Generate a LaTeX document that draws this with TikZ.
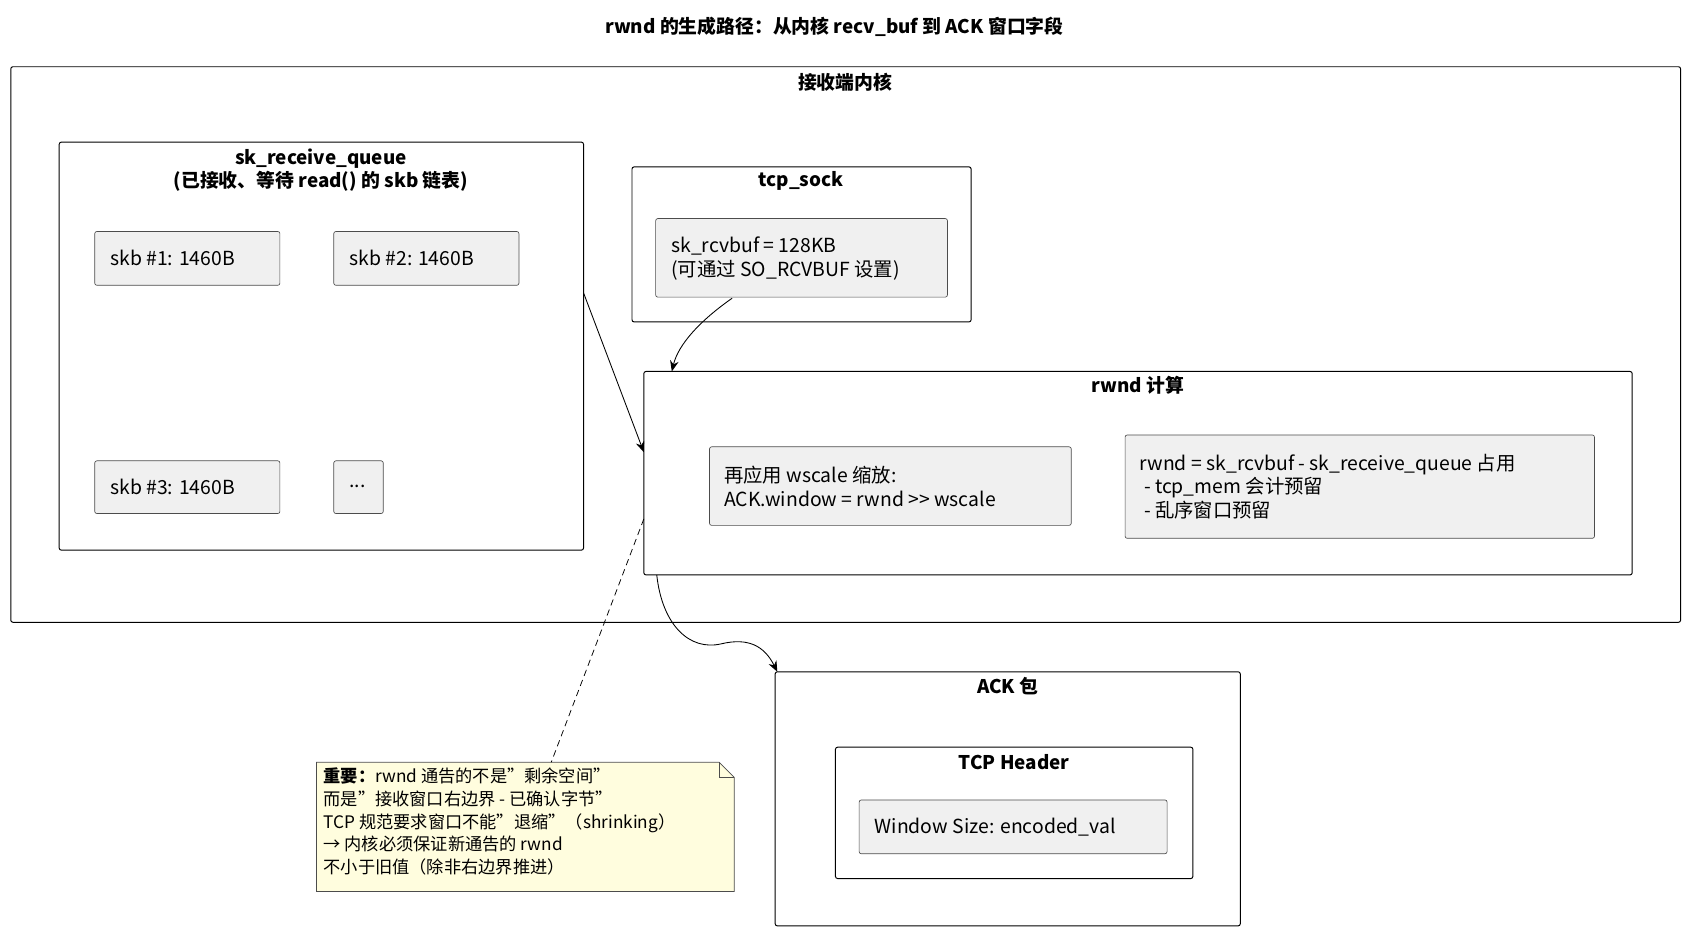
\documentclass[tikz,border=0pt]{standalone}
\usepackage{fontspec}
\setmainfont{Noto Sans CJK SC}
\usetikzlibrary{arrows.meta}
\newcommand{\qq}{\symbol{34}}
\begin{document}
\begin{tikzpicture}[x=1pt,y=-1pt,
 frame/.style={draw,line width=0.9pt,rounded corners=2pt},
 item/.style={draw=black!70,fill=black!6,line width=0.6pt,rounded corners=2pt},
 ttl/.style={font=\fontsize{17.5}{21}\selectfont\bfseries,align=center},
 txt/.style={font=\fontsize{18}{22}\selectfont,align=left,anchor=west},
 arr/.style={-{Stealth[length=10pt,width=8pt]},line width=0.8pt}]
\useasboundingbox (0,0) rectangle (1566,866);
\node[ttl] (title) at (775,25) {rwnd 的生成路径：从内核 recv\_buf 到 ACK 窗口字段};
% outer
\draw[frame] (10,62) rectangle (1561,578);
\node[ttl] (kt) at (785,76) {接收端内核};
% queue
\draw[frame] (55,132) rectangle (542,511);
\coordinate (qr) at (542,272);
\node[ttl] (qt) at (298,158) {sk\_receive\_queue\\(已接收、等待 read() 的 skb 链表)};
\draw[item] (88,215) rectangle (260,265); \node[txt] (s1) at (99,240) {skb \#1: 1460B};
\draw[item] (310,215) rectangle (482,265); \node[txt] (s2) at (321,240) {skb \#2: 1460B};
\draw[item] (88,428) rectangle (260,477); \node[txt] (s3) at (99,452) {skb \#3: 1460B};
\draw[item] (310,428) rectangle (356,477); \node[txt] (s4) at (321,452) {...};
% tcp_sock
\draw[frame] (587,155) rectangle (902,299);
\node[ttl] (tt) at (744,168) {tcp\_sock};
\draw[item] (609,203) rectangle (880,276);
\node[txt] (rb) at (620,240) {sk\_rcvbuf = 128KB\\(可通过 SO\_RCVBUF 设置)};
\coordinate (rbs) at (680,277);
% rwnd
\draw[frame] (598,345) rectangle (1516,534);
\node[ttl] (rt) at (1057,358) {rwnd 计算};
\coordinate (rtop) at (624,345);
\coordinate (rleft) at (598,420);
\coordinate (rnote) at (598,482);
\coordinate (rbot) at (610,534);
\draw[item] (659,415) rectangle (995,488);
\node[txt] (w1) at (669,452) {再应用 wscale 缩放:\\ACK.window = rwnd >{}> wscale};
\draw[item] (1045,404) rectangle (1481,500);
\node[txt] (w2) at (1055,452) {rwnd = sk\_rcvbuf - sk\_receive\_queue 占用\\\ - tcp\_mem 会计预留\\\ - 乱序窗口预留};
% ACK
\draw[frame] (720,624) rectangle (1152,860);
\node[ttl] (at) at (936,637) {ACK 包};
\coordinate (atop) at (722,624);
\draw[frame] (776,694) rectangle (1108,816);
\node[ttl] (ht) at (942,708) {TCP Header};
\draw[item] (798,743) rectangle (1084,793);
\node[txt] (ws) at (809,768) {Window Size: encoded\_val};
% note
\draw[fill=yellow!13!white,draw=black!70,line width=0.6pt] (294,708) -- (668,708) -- (682,722) -- (682,828) -- (294,828) -- cycle;
\draw[draw=black!70,line width=0.6pt] (668,708) -- (668,722) -- (682,722);
\coordinate (ntop) at (512,708);
\node[font=\fontsize{16}{21}\selectfont,align=left,anchor=north west] (note) at (297,710) {\textbf{重要：}rwnd 通告的不是\qq 剩余空间\qq\\而是\qq 接收窗口右边界 - 已确认字节\qq\\TCP 规范要求窗口不能\qq 退缩\qq（shrinking）\\→ 内核必须保证新通告的 rwnd\\不小于旧值（除非右边界推进）};
% connectors
\draw[arr] (qr) -- (rleft);
\draw[arr] (rbs) .. controls (650,298) and (630,320) .. (rtop);
\draw[arr] (rbot) .. controls (615,580) and (640,605) .. (670,598) .. controls (695,592) and (710,600) .. (atop);
\draw[dashed,line width=0.7pt,dash pattern=on 6pt off 4pt] (rnote) -- (ntop);
\end{tikzpicture}
\end{document}
